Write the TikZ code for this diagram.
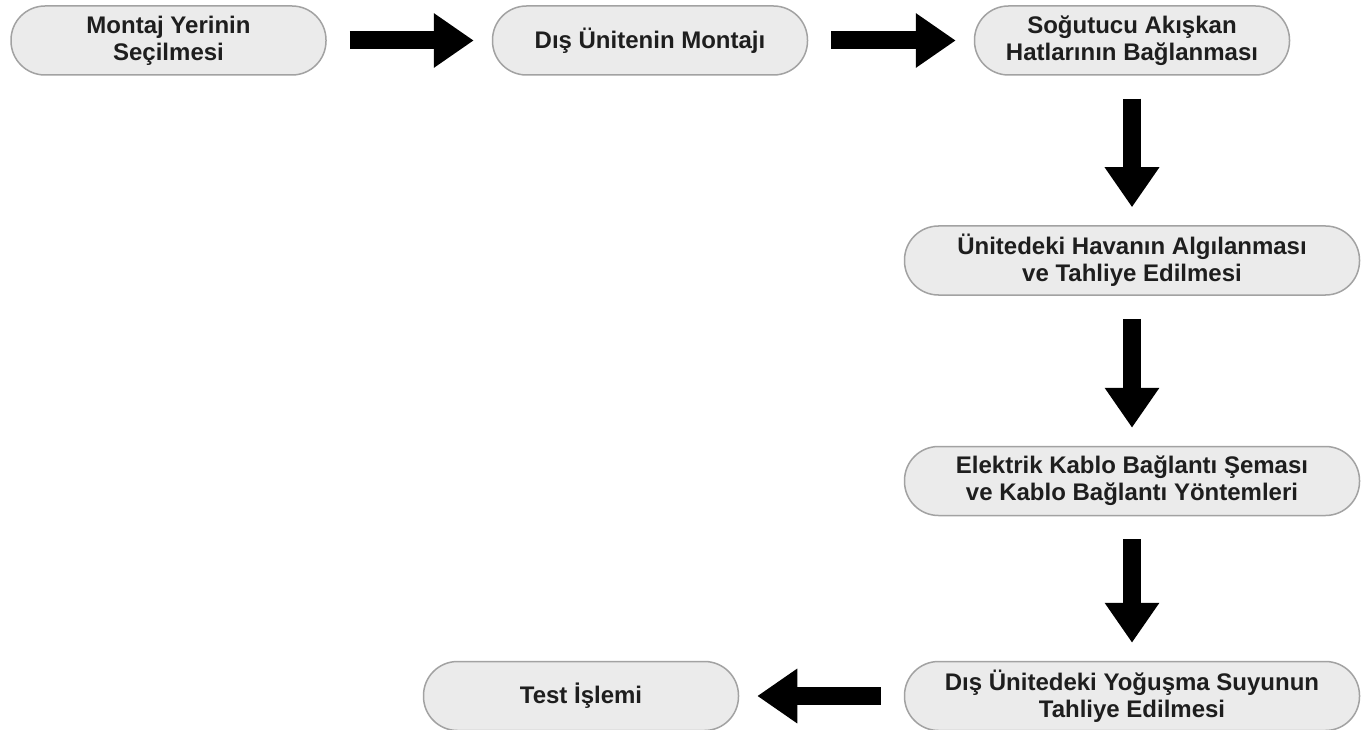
\documentclass[tikz,border=0pt]{standalone}
\usepackage{fontspec}
\setmainfont{Liberation Sans}
\usepackage{xcolor}
\usepackage{tikz}
\usetikzlibrary{arrows.meta}

\definecolor{kutudolgu}{HTML}{EBEBEB}
\definecolor{kutucizgi}{HTML}{A2A2A2}
\definecolor{yazi}{HTML}{1E1E1E}

\begin{document}
\begin{tikzpicture}[x=1pt, y=-1pt,
    adim/.style={draw=kutucizgi, line width=1.5pt, fill=kutudolgu,
        rounded corners=34pt, minimum height=69pt, align=center,
        text=yazi, font=\fontsize{24}{27}\selectfont\bfseries},
    kisa/.style={adim, minimum width=315pt},
    uzun/.style={adim, minimum width=455pt},
    akis/.style={line width=18pt, -{Triangle[width=52pt, length=40pt]},
        shorten <=23pt, shorten >=18pt}]
    \useasboundingbox (0,0) rectangle (1366,730);

    % 1. Üst sıra
    \node[kisa] (secim) at (168.5,40.5) {Montaj Yerinin\\Seçilmesi};
    \node[kisa] (dis) at (650,40.5) {Dış Ünitenin Montajı};
    \node[kisa] (hat) at (1132,40.5) {Soğutucu Akışkan\\Hatlarının Bağlanması};

    % 2. Sağ sütun
    \node[uzun] (hava) at (1132,260.5) {Ünitedeki Havanın Algılanması\\ve Tahliye Edilmesi};
    \node[uzun] (kablo) at (1132,481) {Elektrik Kablo Bağlantı Şeması\\ve Kablo Bağlantı Yöntemleri};
    \node[uzun] (su) at (1132,696) {Dış Ünitedeki Yoğuşma Suyunun\\Tahliye Edilmesi};

    % 3. Son adım
    \node[kisa] (test) at (581,696) {Test İşlemi};

    % 4. Oklar
    \foreach \a/\b in {secim/dis, dis/hat, hat/hava, hava/kablo, kablo/su, su/test} {
        \draw[akis] (\a) -- (\b);
    }
\end{tikzpicture}
\end{document}
